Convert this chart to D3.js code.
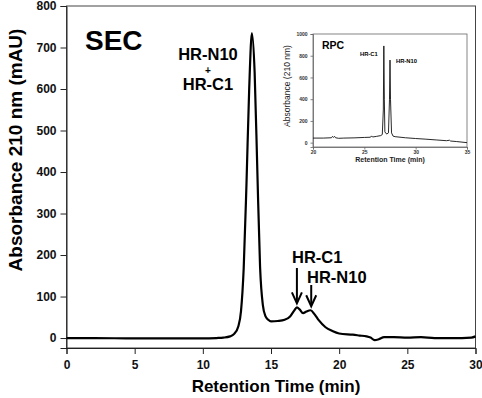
<!DOCTYPE html>
<html>
<head>
<meta charset="utf-8">
<script src="https://cdn.jsdelivr.net/npm/d3@7"></script>
<style>
  body { margin: 0; background: #fff; }
  svg { display: block; font-family: "Liberation Sans", Arial, sans-serif; }
</style>
</head>
<body>
<div id="chart"></div>
<script>
// SEC trace: retention time (min) and absorbance (mAU)
var secTime = [0, 2, 5, 8, 10, 11, 11.5, 12, 12.3, 12.6, 12.8, 13.0, 13.2, 13.4, 13.6, 13.8, 14.0, 14.2, 14.4, 14.6, 14.8, 15.0, 15.5, 16.0, 16.4, 16.7, 16.9, 17.1, 17.35, 17.6, 17.9, 18.2, 18.5, 19.0, 19.5, 20.0, 21.0, 21.5, 22.0, 22.3, 22.6, 22.9, 23.3, 24, 25, 26, 27, 28, 29, 29.7, 30];
var secAbs  = [0, 0, -1, -1, -1, 0, 1, 4, 10, 28, 65, 170, 370, 600, 735, 640, 400, 170, 80, 52, 44, 40, 41, 44, 52, 66, 74, 69, 60, 64, 67, 57, 43, 26, 17, 11, 8, 6, 4, 1, -5, -3, 2, 2, 1, 2, 0, 0, 0, 1, 4];

// RPC inset trace
var rpcTime = [20, 21, 21.8, 21.9, 22.0, 22.1, 22.2, 22.5, 23, 24, 25, 25.6, 25.7, 25.8, 26.2, 26.6, 26.75, 26.85, 26.9, 26.95, 27.0, 27.1, 27.2, 27.35, 27.45, 27.5, 27.55, 27.65, 27.8, 28, 29, 30, 31, 32, 33, 33.3, 33.4, 34, 35];
var rpcAbs  = [42, 42, 45, 58, 48, 58, 45, 40, 42, 44, 48, 50, 62, 52, 58, 65, 75, 300, 890, 400, 100, 85, 80, 90, 400, 760, 400, 90, 60, 55, 45, 38, 32, 25, 18, 22, 15, 10, 0];

var mainXTicks = [0, 5, 10, 15, 20, 25, 30];
var mainYTicks = [0, 100, 200, 300, 400, 500, 600, 700, 800];
var insetXTicks = [20, 25, 30, 35];
var insetYTicks = [0, 200, 400, 600, 800, 1000];

// arrows point at the two small SEC peaks
var arrowPeaks = [
  { label: "HR-C1", t: 16.9, v: 74, top: 268 },
  { label: "HR-N10", t: 17.95, v: 67, top: 285 }
];

var W = 482, H = 398;
var svg = d3.select("#chart").append("svg").attr("width", W).attr("height", H);

var x = d3.scaleLinear().domain([0, 30]).range([66.5, 475.5]);
var y = d3.scaleLinear().domain([-24, 800]).range([348, 6]);

// frame
svg.append("rect")
  .attr("x", x(0)).attr("y", y(800))
  .attr("width", x(30) - x(0)).attr("height", y(-24) - y(800))
  .attr("fill", "none").attr("stroke", "#444").attr("stroke-width", 1);

svg.append("g")
  .attr("transform", "translate(" + x(0) + ",0)")
  .call(d3.axisLeft(y).tickValues(mainYTicks).tickSize(6).tickPadding(4));
svg.append("g")
  .attr("transform", "translate(0," + y(-24) + ")")
  .call(d3.axisBottom(x).tickValues(mainXTicks).tickSize(6).tickPadding(6));

svg.selectAll(".tick text").style("font-size", "12px").style("font-weight", "bold").attr("fill", "#111");
svg.selectAll(".domain").attr("stroke", "#222");
svg.selectAll(".tick line").attr("stroke", "#222");

// curve
var secData = secTime.map(function(t, i) { return [t, secAbs[i]]; });
svg.append("path")
  .datum(secData)
  .attr("fill", "none")
  .attr("stroke", "#000")
  .attr("stroke-width", 2.2)
  .attr("d", d3.line()
    .x(function(d) { return x(d[0]); })
    .y(function(d) { return y(d[1]); })
    .curve(d3.curveMonotoneX));

// axis titles
svg.append("text")
  .attr("x", (x(0) + x(30)) / 2 + 5).attr("y", 392)
  .attr("text-anchor", "middle")
  .style("font-size", "17px").style("font-weight", "bold")
  .text("Retention Time (min)");

svg.append("text")
  .attr("transform", "translate(22,150) rotate(-90)")
  .attr("text-anchor", "middle")
  .style("font-size", "19px").style("font-weight", "bold")
  .text("Absorbance 210 nm (mAU)");

svg.append("text")
  .attr("x", 85).attr("y", 50)
  .style("font-size", "28px").style("font-weight", "bold")
  .text("SEC");

// main peak label
svg.append("text").attr("x", 208).attr("y", 60).attr("text-anchor", "middle")
  .style("font-size", "16.5px").style("font-weight", "bold").text("HR-N10");
svg.append("text").attr("x", 208).attr("y", 74).attr("text-anchor", "middle")
  .style("font-size", "10px").style("font-weight", "bold").text("+");
svg.append("text").attr("x", 208).attr("y", 90).attr("text-anchor", "middle")
  .style("font-size", "16.5px").style("font-weight", "bold").text("HR-C1");

// arrows
arrowPeaks.forEach(function(p) {
  var ax = x(p.t), tip = y(p.v) - 4;
  svg.append("line")
    .attr("x1", ax).attr("x2", ax).attr("y1", p.top).attr("y2", tip - 2)
    .attr("stroke", "#000").attr("stroke-width", 2);
  svg.append("path")
    .attr("d", "M" + (ax - 5) + "," + (tip - 11) + "L" + ax + "," + tip + "L" + (ax + 5) + "," + (tip - 11))
    .attr("fill", "none").attr("stroke", "#000").attr("stroke-width", 2);
});
svg.append("text").attr("x", 292).attr("y", 263)
  .style("font-size", "16.5px").style("font-weight", "bold").text(arrowPeaks[0].label);
svg.append("text").attr("x", 307).attr("y", 283)
  .style("font-size", "16.5px").style("font-weight", "bold").text(arrowPeaks[1].label);

// ---- inset RPC ----
var ix = d3.scaleLinear().domain([20, 35]).range([313, 467]);
var iy = d3.scaleLinear().domain([-40, 1000]).range([147, 34]);
var inset = svg.append("g");

inset.append("rect")
  .attr("x", ix(20)).attr("y", iy(1000))
  .attr("width", ix(35) - ix(20)).attr("height", iy(-40) - iy(1000))
  .attr("fill", "#fff").attr("stroke", "#666").attr("stroke-width", 0.8);

inset.append("g")
  .attr("transform", "translate(" + ix(20) + ",0)")
  .call(d3.axisLeft(iy).tickValues(insetYTicks).tickFormat(d3.format("d")).tickSize(2.5).tickPadding(3));
inset.append("g")
  .attr("transform", "translate(0," + iy(-40) + ")")
  .call(d3.axisBottom(ix).tickValues(insetXTicks).tickFormat(d3.format("d")).tickSize(2.5).tickPadding(1));
inset.selectAll(".tick text").style("font-size", "5px").style("font-weight", "bold").attr("fill", "#333");
inset.selectAll(".domain").attr("stroke", "#666").attr("stroke-width", 0.8);
inset.selectAll(".tick line").attr("stroke", "#666").attr("stroke-width", 0.8);

var rpcData = rpcTime.map(function(t, i) { return [t, rpcAbs[i]]; });
inset.append("path")
  .datum(rpcData)
  .attr("fill", "none")
  .attr("stroke", "#111")
  .attr("stroke-width", 0.9)
  .attr("d", d3.line()
    .x(function(d) { return ix(d[0]); })
    .y(function(d) { return iy(d[1]); }));

inset.append("text").attr("x", 322).attr("y", 49)
  .style("font-size", "10.5px").style("font-weight", "bold").text("RPC");
inset.append("text").attr("x", 360).attr("y", 56)
  .style("font-size", "5.8px").style("font-weight", "bold").text("HR-C1");
inset.append("text").attr("x", 396).attr("y", 63)
  .style("font-size", "5.8px").style("font-weight", "bold").text("HR-N10");
inset.append("text")
  .attr("x", (ix(20) + ix(35)) / 2).attr("y", 162)
  .attr("text-anchor", "middle")
  .style("font-size", "7px").style("font-weight", "bold").attr("fill", "#222")
  .text("Retention Time (min)");
inset.append("text")
  .attr("transform", "translate(290,86) rotate(-90)")
  .attr("text-anchor", "middle")
  .style("font-size", "8.5px").attr("fill", "#222")
  .text("Absorbance (210 nm)");
</script>
</body>
</html>
